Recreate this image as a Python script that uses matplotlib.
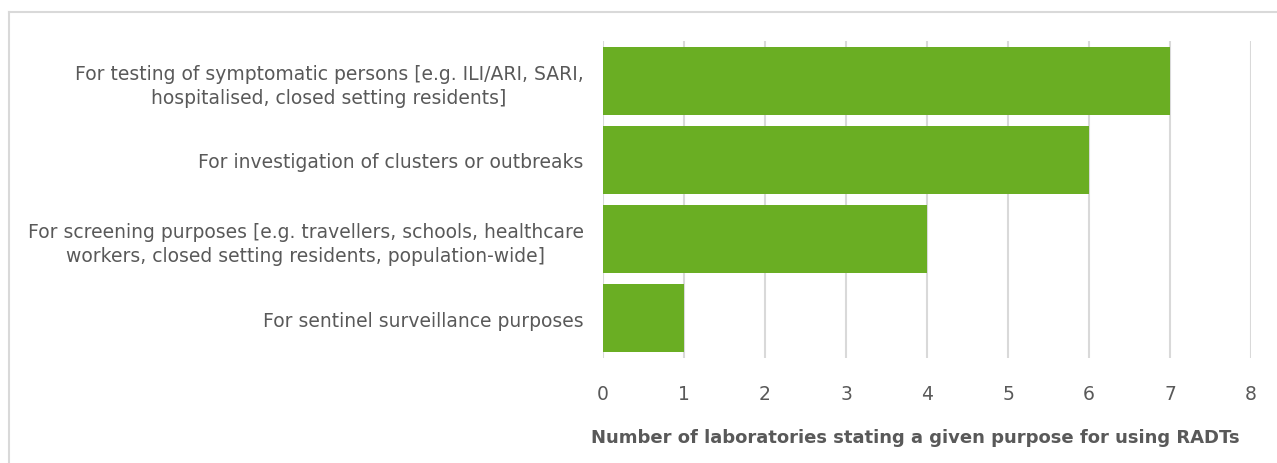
import matplotlib
matplotlib.use('Agg')
import matplotlib.pyplot as plt
from matplotlib.lines import Line2D

categories = [
    "For testing of symptomatic persons [e.g. ILI/ARI, SARI,\nhospitalised, closed setting residents]",
    "For investigation of clusters or outbreaks",
    "For screening purposes [e.g. travellers, schools, healthcare\nworkers, closed setting residents, population-wide]",
    "For sentinel surveillance purposes",
]
values = [7, 6, 4, 1]
xticks = [0, 1, 2, 3, 4, 5, 6, 7, 8]
xlabel = "Number of laboratories stating a given purpose for using RADTs"

text_col = '#595959'
grid_col = '#D9D9D9'
bar_col = '#6AAE23'

fig = plt.figure(figsize=(12.77, 4.64), dpi=100)
ax = fig.add_axes([603 / 1277, 1 - 359 / 464, (1251 - 603) / 1277, (359 - 42) / 464])

ypos = list(range(len(categories)))
ax.barh(ypos, values, height=0.86, color=bar_col, zorder=3)
ax.set_ylim(len(categories) - 0.5, -0.5)
ax.set_xlim(0, 8)
ax.set_xticks(xticks)
ax.set_yticks(ypos)
ax.set_yticklabels(categories, fontsize=13.5, color=text_col, ha='right')
for lab in ax.get_yticklabels():
    lab.set_multialignment('center')
    lab.set_linespacing(1.35)
ax.tick_params(axis='y', length=0, pad=14)
ax.tick_params(axis='x', length=0, pad=19, labelsize=13.5, labelcolor=text_col)
ax.grid(axis='x', color=grid_col, linewidth=1.5, zorder=0)
for s in ax.spines.values():
    s.set_visible(False)
ax.set_xlabel(xlabel, fontsize=13, fontweight='bold', color=text_col)
ax.xaxis.set_label_coords(0.482, -0.22)

# chart-area border
bx = 9 / 1277
by = 1 - 13 / 464
fig.add_artist(Line2D([bx, bx], [0, by], transform=fig.transFigure, color=grid_col, linewidth=1.5))
fig.add_artist(Line2D([bx, 1], [by, by], transform=fig.transFigure, color=grid_col, linewidth=1.5))

fig.savefig('out.png', dpi=100, facecolor='white')
